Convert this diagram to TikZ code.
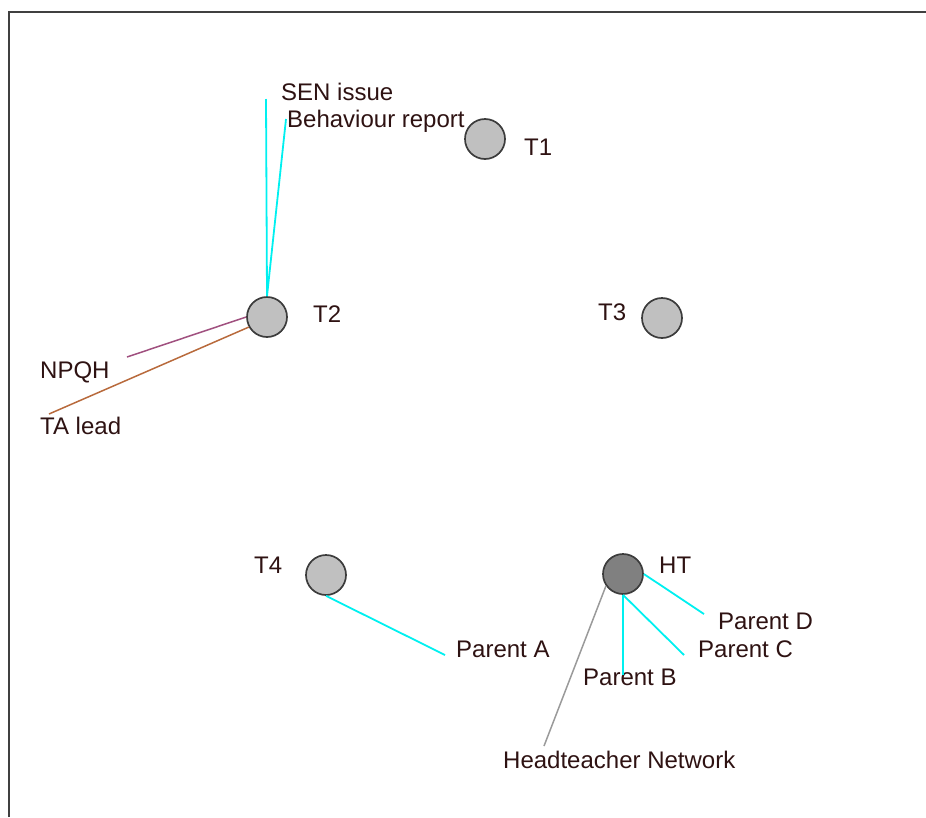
\documentclass[tikz,border=0pt]{standalone}
\usepackage{fontspec}
\setmainfont{Liberation Sans}
\definecolor{txt}{HTML}{2E1212}
\definecolor{cy}{HTML}{00F0F0}
\definecolor{npqh}{HTML}{A0507F}
\definecolor{talead}{HTML}{B86A3C}
\definecolor{netw}{HTML}{9A9A9A}
\definecolor{nodefill}{HTML}{C0C0C0}
\definecolor{htfill}{HTML}{808080}
\definecolor{rim}{HTML}{3C3C3C}
\definecolor{frame}{HTML}{404040}
\begin{document}
\begin{tikzpicture}[x=1pt,y=-1pt,
  actor/.style={circle,draw=rim,line width=1.7pt,fill=nodefill,minimum size=40pt,inner sep=0pt},
  lab/.style={anchor=base west,inner sep=0pt,text=txt,font=\fontsize{24}{28}\selectfont},
  cyline/.style={draw=cy,line width=1.8pt},
]
\useasboundingbox (0,0) rectangle (926,817);
\draw[frame,line width=2pt] (9,817) -- (9,12) -- (926,12);

% actors
\node[actor] (t1) at (485,139) {};
\node[actor] (t2) at (267,317) {};
\node[actor] (t3) at (662,318) {};
\node[actor] (t4) at (326,575) {};
\node[actor,fill=htfill] (ht) at (623,574) {};

% labels
\node[lab] (lt1) at (524,155) {T1};
\node[lab] (lt2) at (313,322) {T2};
\node[lab] (lt3) at (598,320) {T3};
\node[lab] (lt4) at (254,573) {T4};
\node[lab] (lht) at (659,573) {HT};
\node[lab] (sen) at (281,100) {SEN issue};
\node[lab] (beh) at (287,127) {Behaviour report};
\node[lab] (npqhl) at (40,378) {NPQH};
\node[lab] (tal) at (40,434) {TA lead};
\node[lab] (pa) at (456,657) {Parent A};
\node[lab] (pb) at (583,685) {Parent B};
\node[lab] (pc) at (698,657) {Parent C};
\node[lab] (pd) at (718,629) {Parent D};
\node[lab] (hn) at (503,768) {Headteacher Network};

% free ends
\coordinate (esen) at (266,99);
\coordinate (ebeh) at (286,119);
\coordinate (enpqh) at (127,357);
\coordinate (etal) at (49,414);
\coordinate (epa) at (445,655);
\coordinate (epb) at (623,675);
\coordinate (epc) at (684,655);
\coordinate (epd) at (704,614);
\coordinate (ehn) at (544,746);

% connectors
\draw[cyline] (t2.north) -- (esen);
\draw[cyline] (t2.north) -- (ebeh);
\draw[npqh,line width=1.5pt] (t2.west) -- (enpqh);
\draw[talead,line width=1.5pt] (t2.209) -- (etal);
\draw[cyline] (t4.south) -- (epa);
\draw[cyline] (ht.south) -- (epb);
\draw[cyline] (ht.south) -- (epc);
\draw[cyline] (ht.east) -- (epd);
\draw[netw,line width=1.5pt] (ht.215) -- (ehn);
\end{tikzpicture}
\end{document}
